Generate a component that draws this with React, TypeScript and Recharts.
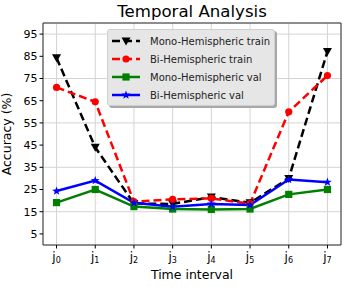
import React from 'react';
import {
  LineChart, Line, XAxis, YAxis, CartesianGrid, Legend, ReferenceArea,
} from 'recharts';

// time intervals on the x axis (base letter + subscript index)
const categories = ['j0', 'j1', 'j2', 'j3', 'j4', 'j5', 'j6', 'j7'];

// accuracy (%)
const monoTrain = [84.3, 44, 18.7, 18.5, 21.6, 19, 30, 87.2];
const biTrain = [71, 64.5, 19.5, 20.6, 21, 18.6, 60, 76.3];
const monoVal = [19.1, 25, 17.3, 16.2, 16, 16.2, 22.8, 25];
const biVal = [24.3, 29, 19, 17.2, 18.5, 18, 29.5, 28.3];

const yTicks = [5, 15, 25, 35, 45, 55, 65, 75, 85, 95];

const data = categories.map((c, i) => ({
  x: i,
  label: c,
  monoTrain: monoTrain[i],
  biTrain: biTrain[i],
  monoVal: monoVal[i],
  biVal: biVal[i],
}));

type Shape = 'tri' | 'circle' | 'square' | 'star';

const drawMarker = (shape: Shape, color: string, cx: number, cy: number, key?: string) => {
  if (shape === 'tri') {
    return <path key={key} d={`M${cx - 4.5},${cy - 3.5} L${cx + 4.5},${cy - 3.5} L${cx},${cy + 4.5} Z`} fill={color} />;
  }
  if (shape === 'circle') {
    return <circle key={key} cx={cx} cy={cy} r={3.6} fill={color} />;
  }
  if (shape === 'square') {
    return <rect key={key} x={cx - 3.6} y={cy - 3.6} width={7.2} height={7.2} fill={color} />;
  }
  // star
  const pts: string[] = [];
  for (let k = 0; k < 10; k++) {
    const r = k % 2 === 0 ? 4.6 : 1.9;
    const a = -Math.PI / 2 + (k * Math.PI) / 5;
    pts.push(`${cx + r * Math.cos(a)},${cy + r * Math.sin(a)}`);
  }
  return <polygon key={key} points={pts.join(' ')} fill={color} />;
};

const series = [
  { key: 'monoTrain', name: 'Mono-Hemispheric train', color: '#000000', dash: '8 4', shape: 'tri' as Shape },
  { key: 'biTrain', name: 'Bi-Hemispheric train', color: '#ff0000', dash: '8 4', shape: 'circle' as Shape },
  { key: 'monoVal', name: 'Mono-Hemispheric val', color: '#008000', dash: undefined, shape: 'square' as Shape },
  { key: 'biVal', name: 'Bi-Hemispheric val', color: '#0000ff', dash: undefined, shape: 'star' as Shape },
];

const XTick = (props: any) => {
  const { x, y, payload } = props;
  const lab = categories[payload.value] || '';
  return (
    <text x={x} y={y + 10.5} textAnchor="middle" fill="#000" fontFamily="DejaVu Sans">
      <tspan fontSize={12}>{lab.slice(0, 1)}</tspan>
      <tspan fontSize={8} dy={1.5}>{lab.slice(1)}</tspan>
    </text>
  );
};

const LegendBox = () => (
  <div
    style={{
      width: 168,
      height: 77,
      background: '#e6e6e6',
      border: '1px solid #cfcfcf',
      borderRadius: 3,
      boxShadow: '2px 2px 0 #a8a8a8',
      paddingTop: 2,
      boxSizing: 'border-box',
    }}
  >
    {series.map((s) => (
      <div key={s.key} style={{ display: 'flex', alignItems: 'center', height: 18, fontSize: 10, color: '#222' }}>
        <svg width={40} height={18} style={{ flex: 'none' }}>
          <line x1={4} y1={9} x2={32} y2={9} stroke={s.color} strokeWidth={2.5} strokeDasharray={s.dash} />
          {drawMarker(s.shape, s.color, 18, 9)}
        </svg>
        <span style={{ marginLeft: 2 }}>{s.name}</span>
      </div>
    ))}
  </div>
);

const App: React.FC = () => {
  return (
    <div style={{ position: 'fixed', left: 0, top: 0, width: 347, height: 287, background: '#fff', fontFamily: 'DejaVu Sans' }}>
      <div
        style={{
          position: 'absolute', left: 43, width: 298, top: 3, textAlign: 'center',
          fontSize: 16.6, lineHeight: '18px', color: '#000',
        }}
      >
        Temporal Analysis
      </div>
      <LineChart
        width={347}
        height={287}
        data={data}
        margin={{ top: 23, right: 6, left: 0, bottom: 0 }}
        style={{ fontFamily: 'DejaVu Sans' }}
      >
        <CartesianGrid stroke="#d4d4d4" strokeWidth={1} />
        <XAxis
          type="number"
          dataKey="x"
          domain={[-0.35, 7.35]}
          ticks={categories.map((_, i) => i)}
          allowDataOverflow
          height={42}
          axisLine={false}
          tickSize={3.5}
          tickMargin={2}
          tickLine={{ stroke: '#000' }}
          tick={<XTick />}
          label={{ value: 'Time interval', position: 'insideBottom', offset: 8, fill: '#000', fontSize: 12.5 }}
        />
        <YAxis
          type="number"
          domain={[0, 100]}
          ticks={yTicks}
          allowDataOverflow
          width={43}
          axisLine={false}
          tickSize={3.5}
          tickMargin={2}
          tickLine={{ stroke: '#000' }}
          tick={{ fill: '#000', fontSize: 11 }}
          label={{
            value: 'Accuracy (%)', angle: -90, position: 'insideLeft', offset: 7,
            fill: '#000', fontSize: 12.5, style: { textAnchor: 'middle' },
          }}
        />
        <ReferenceArea x1={-0.35} x2={7.35} y1={0} y2={100} fill="none" stroke="#333" strokeWidth={1} ifOverflow="visible" />
        {series.map((s) => (
          <Line
            key={s.key}
            dataKey={s.key}
            name={s.name}
            stroke={s.color}
            strokeWidth={2.5}
            strokeDasharray={s.dash}
            isAnimationActive={false}
            dot={(p: any) => drawMarker(s.shape, s.color, p.cx, p.cy, `${s.key}-${p.index}`)}
            activeDot={false}
          />
        ))}
        <Legend
          layout="vertical"
          align="center"
          verticalAlign="middle"
          content={() => <LegendBox />}
          wrapperStyle={{ left: 107, top: 29, width: 'auto' }}
        />
      </LineChart>
    </div>
  );
};

export default App;
